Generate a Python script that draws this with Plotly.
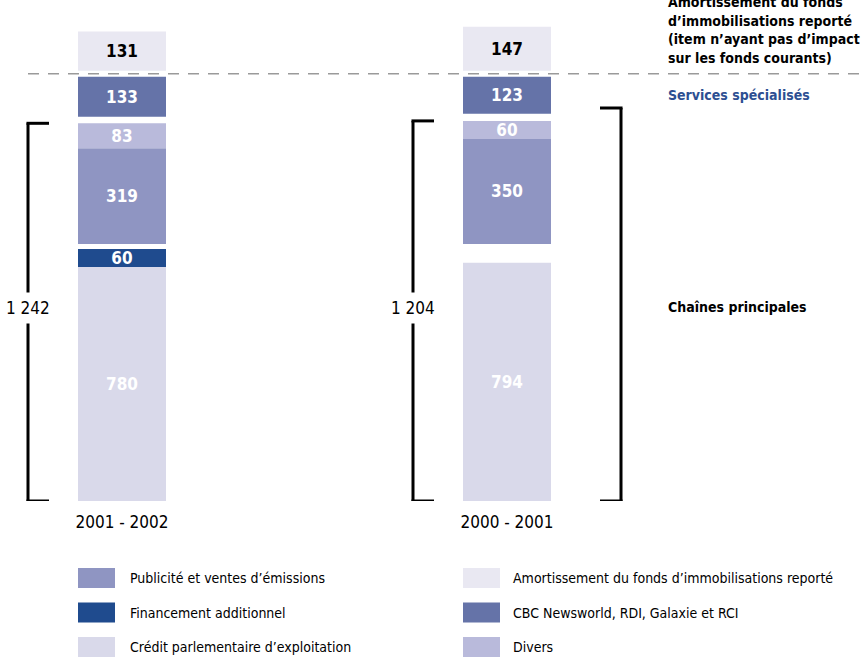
import plotly.graph_objects as go

# ---------------- data ----------------
periods = ["2001 - 2002", "2000 - 2001"]
credit = [780, 794]            # Crédit parlementaire d'exploitation
financement = [60, None]       # Financement additionnel
publicite = [319, 350]         # Publicité et ventes d'émissions
divers = [83, 60]              # Divers
cbc = [133, 123]               # CBC Newsworld, RDI, Galaxie et RCI
amort = [131, 147]             # Amortissement du fonds d'immobilisations reporté

name_credit = "Crédit parlementaire d\u2019exploitation"
name_fin = "Financement additionnel"
name_pub = "Publicité et ventes d\u2019émissions"
name_div = "Divers"
name_cbc = "CBC Newsworld, RDI, Galaxie et RCI"
name_amort = "Amortissement du fonds d\u2019immobilisations reporté"

top_note = ["Amortissement du fonds", "d\u2019immobilisations reporté",
            "(item n\u2019ayant pas d\u2019impact", "sur les fonds courants)"]
label_services = "Services spécialisés"
label_chaines = "Chaînes principales"

# ---------------- style ----------------
FONT = "Liberation Sans Narrow, DejaVu Sans Condensed, Roboto Condensed, Roboto, sans-serif"
c_credit = "#d9d9ea"
c_fin = "#1f4b8e"
c_pub = "#8f95c2"
c_div = "#b9badb"
c_cbc = "#6573a8"
c_amort = "#e9e8f2"
c_blue_txt = "#2d4f92"

W, H = 864, 661
MB = 160
PLOT_H = H - MB
YMAX = PLOT_H / 0.3
XC0 = 122.0      # pixel centre of first bar
XSTEP = 385.0    # pixel distance between bars
x_range = [(0 - XC0) / XSTEP, (W - XC0) / XSTEP]
bar_w = 88 / XSTEP

xs = list(range(len(periods)))

# ---------------- layout of the blocks (computed from data) ----------------
lower_top = [c + (f or 0) for c, f in zip(credit, financement)]
pub_base = max(lower_top) + 17
pub_bases = [pub_base] * len(xs)
div_bases = [pub_base + p for p in publicite]
upper_top = [pub_base + p + d for p, d in zip(publicite, divers)]
services_top = max(u + s for u, s in zip(upper_top, cbc)) + 22
cbc_bases = [services_top - s for s in cbc]
amort_base = services_top + 20
dash_y = services_top + 10
totals = [c + (f or 0) + p + d for c, f, p, d in zip(credit, financement, publicite, divers)]

def fmt(v):
    return f"{v:,}".replace(",", " ")

fig = go.Figure()

def add(name, vals, bases, color, tcolor):
    xx, yy, bb = [], [], []
    for x, v, b in zip(xs, vals, bases):
        if v is None:
            continue
        xx.append(x); yy.append(v); bb.append(b)
    fig.add_trace(go.Bar(
        x=xx, y=yy, base=bb, name=name, width=bar_w,
        marker=dict(color=color, line=dict(width=0)),
        text=[str(v) for v in yy], textposition="inside",
        insidetextanchor="middle", constraintext="none",
        textfont=dict(family=FONT, size=17, color=tcolor),
        texttemplate="<b>%{text}</b>", showlegend=False, hoverinfo="skip"))

add(name_credit, credit, [0] * len(xs), c_credit, "white")
add(name_fin, financement, credit, c_fin, "white")
add(name_pub, publicite, pub_bases, c_pub, "white")
add(name_div, divers, div_bases, c_div, "white")
add(name_cbc, cbc, cbc_bases, c_cbc, "white")
add(name_amort, amort, [amort_base] * len(xs), c_amort, "black")

shapes = []
annotations = []

def line(x0, y0, x1, y1, xref="x", yref="y", **kw):
    d = dict(type="line", x0=x0, y0=y0, x1=x1, y1=y1, xref=xref, yref=yref,
             line=dict(color="black", width=3))
    d["line"].update(kw)
    shapes.append(d)

# brackets
arm = 21 / XSTEP
left_off = 94 / XSTEP
label_y = 645
for i, x in enumerate(xs):
    vx = x - left_off
    top = upper_top[i]
    line(vx, 0, vx, top)
    line(vx - 0.004, top, vx + arm, top)
    line(vx - 0.004, 0, vx + arm, 0)
    annotations.append(dict(x=vx, y=label_y, xref="x", yref="y", text=fmt(totals[i]),
                            showarrow=False, bgcolor="white", borderpad=5,
                            font=dict(family=FONT, size=17, color="black")))
# right bracket
rx = xs[-1] + 114 / XSTEP
rtop = upper_top[-1] + 43
line(rx, 0, rx, rtop)
line(rx - arm, rtop, rx + 0.004, rtop)
line(rx - arm, 0, rx + 0.004, 0)

# dashed separator
shapes.append(dict(type="line", xref="paper", yref="y", x0=28 / W, x1=1, y0=dash_y, y1=dash_y,
                   line=dict(color="#9a9a9a", width=1.5, dash="11px,9px")))

def py(p):
    return (PLOT_H - p) / PLOT_H

# right-hand texts
for txt, yc in zip(top_note, [2, 21, 39.5, 58]):
    annotations.append(dict(x=666 / W, y=py(yc), xref="paper", yref="paper", xanchor="left",
                            yanchor="middle", text=f"<b>{txt}</b>", showarrow=False,
                            font=dict(family=FONT, size=14, color="black")))
annotations.append(dict(x=666 / W, y=py(95), xref="paper", yref="paper", xanchor="left",
                        yanchor="middle", text=f"<b>{label_services}</b>", showarrow=False,
                        font=dict(family=FONT, size=14, color=c_blue_txt)))
annotations.append(dict(x=666 / W, y=py(307), xref="paper", yref="paper", xanchor="left",
                        yanchor="middle", text=f"<b>{label_chaines}</b>", showarrow=False,
                        font=dict(family=FONT, size=14, color="black")))

# legend (manual, two columns)
legend_items = [
    (name_pub, c_pub, 0, 0), (name_fin, c_fin, 0, 1), (name_credit, c_credit, 0, 2),
    (name_amort, c_amort, 1, 0), (name_cbc, c_cbc, 1, 1), (name_div, c_div, 1, 2),
]
col_sw = [78, 463]
col_tx = [128, 511]
row_top = [568, 602.5, 637]
for name, color, col, row in legend_items:
    shapes.append(dict(type="rect", xref="paper", yref="paper",
                       x0=col_sw[col] / W, x1=(col_sw[col] + 37) / W,
                       y0=py(row_top[row] + 20), y1=py(row_top[row]),
                       fillcolor=color, line=dict(width=0)))
    annotations.append(dict(x=col_tx[col] / W, y=py(row_top[row] + 10), xref="paper", yref="paper",
                            xanchor="left", yanchor="middle", text=name, showarrow=False,
                            font=dict(family=FONT, size=14, color="black")))

fig.update_layout(
    width=W, height=H, margin=dict(l=0, r=0, t=0, b=MB),
    paper_bgcolor="white", plot_bgcolor="white", barmode="overlay",
    font=dict(family=FONT, color="black"),
    xaxis=dict(range=x_range, tickvals=xs, ticktext=periods, showgrid=False, zeroline=False,
               showline=False, ticks="outside", ticklen=6, tickcolor="rgba(0,0,0,0)",
               tickfont=dict(family=FONT, size=17, color="black"), fixedrange=True),
    yaxis=dict(range=[0, YMAX], visible=False, fixedrange=True),
    shapes=shapes, annotations=annotations, showlegend=False,
)

fig.write_html("out.html", config={"displayModeBar": False, "staticPlot": True},
               post_script="document.body.style.margin='0';document.body.style.overflow='hidden';")
